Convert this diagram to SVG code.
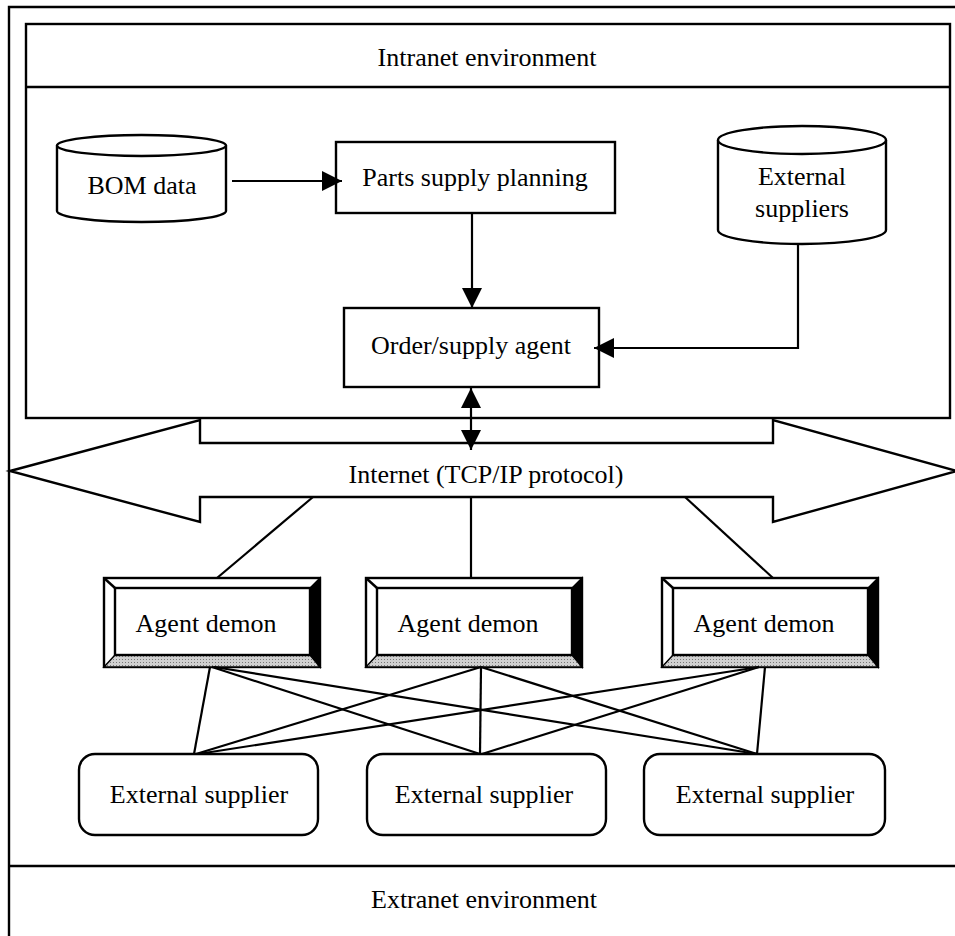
<svg xmlns="http://www.w3.org/2000/svg" width="955" height="936" viewBox="0 0 955 936">
<style>
  .t { font-family: "Liberation Serif", "Times New Roman", serif; font-size: 26px; fill: #000; text-anchor: middle; }
  .s { fill: none; stroke: #000; stroke-width: 2.4; }
  .w { fill: #fff; stroke: #000; stroke-width: 2.4; }
  .c { fill: none; stroke: #000; stroke-width: 2.2; }
</style>
<defs>
  <marker id="ah" viewBox="0 0 20 20" refX="20" refY="10" markerWidth="21" markerHeight="20" markerUnits="userSpaceOnUse" orient="auto-start-reverse">
    <path d="M0,0 L20,10 L0,20 z" fill="#000"/>
  </marker>
  <pattern id="dots" width="3" height="3" patternUnits="userSpaceOnUse">
    <rect width="3" height="3" fill="#d0d0d0"/>
    <rect width="1" height="1" fill="#777"/>
  </pattern>
  <g id="bevel">
    <rect x="0" y="0" width="216" height="89" class="w"/>
    <polygon points="216,0 216,89 206,77 206,10" fill="#000" stroke="#000" stroke-width="1.5"/>
    <polygon points="0,89 216,89 206,77 11,77" fill="url(#dots)" stroke="#000" stroke-width="1.5"/>
    <rect x="11" y="10" width="195" height="67" class="s"/>
    <line x1="0" y1="0" x2="11" y2="10" class="s" stroke-width="1.5"/>
  </g>
</defs>
<rect width="955" height="936" fill="#fff"/>

<g id="frame">
  <path d="M9,936 V7 H955" class="s"/>
</g>

<g id="extranet">
  <line x1="8" y1="866" x2="955" y2="866" class="s"/>
  <text x="484" y="908" class="t">Extranet environment</text>
</g>

<g id="intranet">
  <rect x="26" y="24" width="924" height="394" class="s"/>
  <line x1="26" y1="87" x2="950" y2="87" class="s"/>
  <text x="487" y="66" class="t">Intranet environment</text>
</g>

<g id="internet">
  <polygon points="10,471 200,420 200,443 773,443 773,420 957,471 773,522 773,497 200,497 200,522" class="w"/>
  <text x="486" y="483" class="t">Internet (TCP/IP protocol)</text>
</g>

<g id="bom">
  <path d="M57,145.5 V211 A84.5,11 0 0 0 226,211 V145.5" class="w"/>
  <ellipse cx="141.5" cy="145.5" rx="84.5" ry="10.5" class="w"/>
  <text x="142" y="194" class="t">BOM data</text>
</g>

<g id="parts">
  <rect x="336" y="142" width="279" height="71" class="w"/>
  <text x="475" y="186" class="t">Parts supply planning</text>
</g>

<g id="extsuppliers">
  <path d="M718,140 V230 A84,14 0 0 0 886,230 V140" class="w"/>
  <ellipse cx="802" cy="140" rx="84" ry="14" class="w"/>
  <text x="802" y="185" class="t">External</text>
  <text x="802" y="217" class="t">suppliers</text>
</g>

<g id="ordersupply">
  <rect x="344" y="308" width="255" height="79" class="w" fill="#fcfcfc"/>
  <text x="471" y="354" class="t">Order/supply agent</text>
</g>

<g id="agent1">
  <use href="#bevel" transform="translate(104,578)"/>
  <text x="206" y="632" class="t">Agent demon</text>
</g>
<g id="agent2">
  <use href="#bevel" transform="translate(366,578)"/>
  <text x="468" y="632" class="t">Agent demon</text>
</g>
<g id="agent3">
  <use href="#bevel" transform="translate(662,578)"/>
  <text x="764" y="632" class="t">Agent demon</text>
</g>

<g id="supplier1">
  <rect x="79" y="754" width="239" height="81" rx="16" class="w"/>
  <text x="199" y="803" class="t">External supplier</text>
</g>
<g id="supplier2">
  <rect x="367" y="754" width="239" height="81" rx="16" class="w"/>
  <text x="484" y="803" class="t">External supplier</text>
</g>
<g id="supplier3">
  <rect x="644" y="754" width="241" height="81" rx="16" class="w"/>
  <text x="765" y="803" class="t">External supplier</text>
</g>

<g id="connectors">
  <line x1="232" y1="181" x2="342" y2="181" class="c" marker-end="url(#ah)"/>
  <line x1="472" y1="213" x2="472" y2="308" class="c" marker-end="url(#ah)"/>
  <path d="M798,244 V348 H594" class="c" marker-end="url(#ah)"/>
  <line x1="471" y1="388" x2="471" y2="450" class="c" marker-start="url(#ah)" marker-end="url(#ah)"/>
  <line x1="313" y1="497" x2="217" y2="578" class="c"/>
  <line x1="471" y1="497" x2="471" y2="578" class="c"/>
  <line x1="685" y1="497" x2="773" y2="578" class="c"/>
  <line x1="210" y1="667" x2="194" y2="754" class="c"/>
  <line x1="212" y1="667" x2="480" y2="754" class="c"/>
  <line x1="214" y1="667" x2="757" y2="754" class="c"/>
  <line x1="481" y1="667" x2="196" y2="754" class="c"/>
  <line x1="481" y1="667" x2="480" y2="754" class="c"/>
  <line x1="481" y1="667" x2="757" y2="754" class="c"/>
  <line x1="759" y1="667" x2="198" y2="754" class="c"/>
  <line x1="759" y1="667" x2="482" y2="754" class="c"/>
  <line x1="765" y1="667" x2="757" y2="754" class="c"/>
</g>
</svg>
